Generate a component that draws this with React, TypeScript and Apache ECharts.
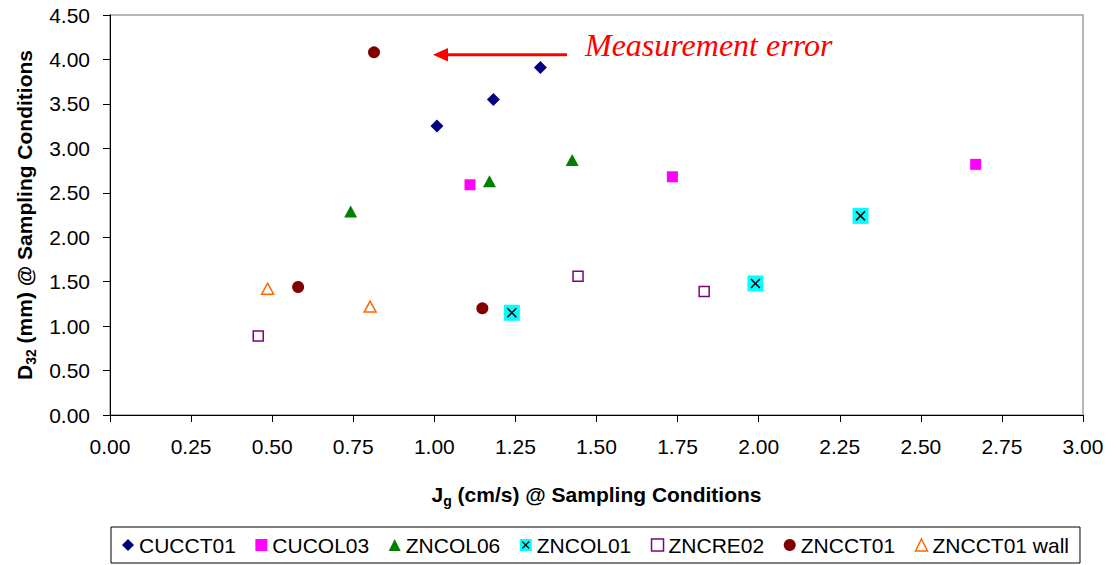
import React, { useEffect, useRef } from "react";
import * as echarts from "echarts";

// [Jg (cm/s), D32 (mm)]
const CUCCT01 = [[1.008, 3.25], [1.182, 3.55], [1.327, 3.91]];
const CUCOL03 = [[1.11, 2.59], [1.734, 2.68], [2.669, 2.82]];
const ZNCOL06 = [[0.742, 2.29], [1.17, 2.63], [1.425, 2.87]];
const ZNCOL01 = [[1.239, 1.15], [1.99, 1.48], [2.314, 2.24]];
const ZNCRE02 = [[0.457, 0.89], [1.443, 1.56], [1.832, 1.39]];
const ZNCCT01 = [[0.58, 1.44], [0.814, 4.08], [1.148, 1.2]];
const ZNCCT01_WALL = [[0.486, 1.42], [0.802, 1.22]];

const SERIES_NAMES = ["CUCCT01", "CUCOL03", "ZNCOL06", "ZNCOL01", "ZNCRE02", "ZNCCT01", "ZNCCT01 wall"];
const X_TICKS = { min: 0, max: 3, interval: 0.25 };
const Y_TICKS = { min: 0, max: 4.5, interval: 0.5 };
const ANNOTATION = "Measurement error";

const FONT = "Arial, 'Liberation Sans', sans-serif";
const LEG_FONT_SIZE = 21;
const LEG_ITEM_W = 12;
const LEG_GAP = 19.5;
const LEG_LEFT = 111;
const LEG_PAD_L = 11;

function measure(text: string, font: string): number {
  const c = document.createElement("canvas");
  const ctx = c.getContext("2d")!;
  ctx.font = font;
  return ctx.measureText(text).width;
}

export default function App() {
  const ref = useRef<HTMLDivElement>(null);
  useEffect(() => {
    if (!ref.current) return;
    const chart = echarts.init(ref.current, undefined, { renderer: "svg" });

    // position of the ZNCOL01 legend icon, for its black "x" overlay
    let x = LEG_LEFT + LEG_PAD_L;
    const idx = SERIES_NAMES.indexOf("ZNCOL01");
    for (let i = 0; i < idx; i++) {
      x += LEG_ITEM_W + 5 + measure(SERIES_NAMES[i], `${LEG_FONT_SIZE}px ${FONT}`) + LEG_GAP;
    }
    const icx = x + LEG_ITEM_W / 2;
    const icy = 545;

    const xPath = "path://M0,0L10,10M10,0L0,10";
    const titleRich = {
      m: { fontSize: 21, fontWeight: "bold", color: "#000", fontFamily: FONT, lineHeight: 24, verticalAlign: "bottom" },
      s: { fontSize: 14, fontWeight: "bold", color: "#000", fontFamily: FONT, lineHeight: 14, verticalAlign: "bottom", padding: [0, 0, -3, 0] },
    };

    chart.setOption({
      animation: false,
      backgroundColor: "#fff",
      textStyle: { fontFamily: FONT },
      grid: {
        left: 110,
        right: 35,
        top: 15,
        bottom: 150,
        show: true,
        borderColor: "#a0a0a0",
        borderWidth: 1.5,
        backgroundColor: "transparent",
      },
      xAxis: {
        type: "value",
        min: X_TICKS.min,
        max: X_TICKS.max,
        interval: X_TICKS.interval,
        name: "{m|J}{s|g}{m| (cm/s) @ Sampling Conditions}",
        nameLocation: "middle",
        nameGap: 66,
        nameTextStyle: { rich: titleRich },
        axisLine: { show: true, lineStyle: { color: "#000", width: 1 } },
        axisTick: { show: true, inside: false, length: 7, lineStyle: { color: "#000" } },
        axisLabel: {
          margin: 21,
          fontSize: 21,
          color: "#000",
          fontFamily: FONT,
          formatter: (v: number) => v.toFixed(2),
        },
        splitLine: { show: false },
      },
      yAxis: {
        type: "value",
        min: Y_TICKS.min,
        max: Y_TICKS.max,
        interval: Y_TICKS.interval,
        name: "{m|D}{s|32}{m| (mm) @ Sampling Conditions}",
        nameLocation: "middle",
        nameRotate: 90,
        nameGap: 72,
        nameTextStyle: { rich: titleRich },
        axisLine: { show: true, lineStyle: { color: "#000", width: 1 } },
        axisTick: { show: true, inside: false, length: 7, lineStyle: { color: "#000" } },
        axisLabel: {
          margin: 20,
          fontSize: 21,
          color: "#000",
          fontFamily: FONT,
          formatter: (v: number) => v.toFixed(2),
        },
        splitLine: { show: false },
      },
      legend: {
        left: LEG_LEFT,
        top: 527,
        orient: "horizontal",
        padding: [7.5, LEG_PAD_L, 7.5, LEG_PAD_L],
        itemGap: LEG_GAP,
        itemWidth: LEG_ITEM_W,
        itemHeight: 12,
        borderColor: "#000",
        borderWidth: 1,
        textStyle: { fontSize: LEG_FONT_SIZE, color: "#000", fontFamily: FONT },
        data: [
          { name: "CUCCT01", icon: "diamond", itemStyle: { color: "#000080", opacity: 1 } },
          { name: "CUCOL03", icon: "rect", itemStyle: { color: "#ff00ff", opacity: 1 } },
          { name: "ZNCOL06", icon: "triangle", itemStyle: { color: "#008000", opacity: 1 } },
          { name: "ZNCOL01", icon: "rect", itemStyle: { color: "#00ffff", opacity: 1 } },
          { name: "ZNCRE02", icon: "rect", itemStyle: { color: "#fff", borderColor: "#800080", borderWidth: 1.5, opacity: 1 } },
          { name: "ZNCCT01", icon: "circle", itemStyle: { color: "#800000", opacity: 1 } },
          { name: "ZNCCT01 wall", icon: "triangle", itemStyle: { color: "#fff", borderColor: "#ff6600", borderWidth: 1.5, opacity: 1 } },
        ],
      },
      series: [
        { name: "CUCCT01", type: "scatter", data: CUCCT01, symbol: "diamond", symbolSize: 13, itemStyle: { color: "#000080", opacity: 1 } },
        { name: "CUCOL03", type: "scatter", data: CUCOL03, symbol: "rect", symbolSize: 11, itemStyle: { color: "#ff00ff", opacity: 1 } },
        { name: "ZNCOL06", type: "scatter", data: ZNCOL06, symbol: "triangle", symbolSize: [13, 12], itemStyle: { color: "#008000", opacity: 1 } },
        { name: "ZNCOL01", type: "scatter", data: ZNCOL01, symbol: "rect", symbolSize: 16, itemStyle: { color: "#00ffff", opacity: 1 } },
        {
          name: "ZNCOL01 x",
          type: "scatter",
          data: ZNCOL01,
          symbol: xPath,
          symbolSize: 9,
          itemStyle: { color: "transparent", borderColor: "#000", borderWidth: 1.5, opacity: 1 },
          z: 3,
        },
        {
          name: "ZNCRE02",
          type: "scatter",
          data: ZNCRE02,
          symbol: "rect",
          symbolSize: 10,
          itemStyle: { color: "#fff", borderColor: "#800080", borderWidth: 1.5, opacity: 1 },
        },
        { name: "ZNCCT01", type: "scatter", data: ZNCCT01, symbol: "circle", symbolSize: 12, itemStyle: { color: "#800000", opacity: 1 } },
        {
          name: "ZNCCT01 wall",
          type: "scatter",
          data: ZNCCT01_WALL,
          symbol: "triangle",
          symbolSize: [12, 11],
          itemStyle: { color: "#fff", borderColor: "#ff6600", borderWidth: 1.5, opacity: 1 },
        },
      ],
      graphic: [
        {
          type: "line",
          shape: { x1: 567, y1: 54.7, x2: 446, y2: 54.7 },
          style: { stroke: "#ff0000", lineWidth: 3 },
          z: 10,
        },
        {
          type: "polygon",
          shape: { points: [[433, 54.7], [448, 48], [448, 61.4]] },
          style: { fill: "#ff0000" },
          z: 10,
        },
        {
          type: "text",
          x: 585,
          y: 45,
          style: {
            text: ANNOTATION,
            fill: "#ff0000",
            font: "italic 32px 'Liberation Serif', 'Times New Roman', serif",
            verticalAlign: "middle",
            align: "left",
          },
          z: 10,
        },
        {
          type: "line",
          shape: { x1: icx - 3.5, y1: icy - 3.5, x2: icx + 3.5, y2: icy + 3.5 },
          style: { stroke: "#000", lineWidth: 1.2 },
          z: 20,
        },
        {
          type: "line",
          shape: { x1: icx + 3.5, y1: icy - 3.5, x2: icx - 3.5, y2: icy + 3.5 },
          style: { stroke: "#000", lineWidth: 1.2 },
          z: 20,
        },
      ],
    });
    return () => chart.dispose();
  }, []);

  return (
    <div
      ref={ref}
      style={{ width: 1118, height: 565, position: "absolute", left: 0, top: 0 }}
    />
  );
}
